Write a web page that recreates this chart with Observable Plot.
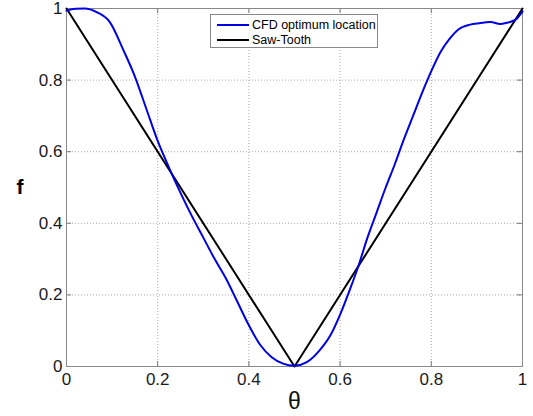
<!DOCTYPE html>
<html>
<head>
<meta charset="utf-8">
<script src="https://cdn.jsdelivr.net/npm/d3@7"></script>
<script src="https://cdn.jsdelivr.net/npm/@observablehq/plot@0.6"></script>
<style>
  html, body { margin: 0; padding: 0; background: #fff; }
  #wrap { position: relative; width: 533px; height: 416px; font-family: "Liberation Sans", Arial, sans-serif; }
  #legend { position: absolute; left: 210px; top: 14px; width: 166px; height: 32px; border: 1px solid #888; background: #fff; font-size: 12.5px; color: #000; }
  #legend .row { position: absolute; left: 6px; height: 14px; display: flex; align-items: center; }
  #legend .sw { width: 32px; height: 2px; margin-right: 3px; }
</style>
</head>
<body>
<div id="wrap"></div>
<script>
// CFD optimum location curve
const cfdTheta = [0, 0.02, 0.04, 0.066, 0.095, 0.125, 0.15, 0.175, 0.20, 0.225, 0.25, 0.275, 0.30, 0.325, 0.35, 0.375, 0.40, 0.425, 0.45, 0.475, 0.50, 0.527, 0.555, 0.58, 0.60, 0.62, 0.64, 0.66, 0.68, 0.70, 0.72, 0.74, 0.76, 0.78, 0.80, 0.82, 0.84, 0.86, 0.885, 0.905, 0.93, 0.951, 0.965, 0.984, 1.0];
const cfdF     = [0.994, 0.999, 1.0, 0.99, 0.962, 0.883, 0.81, 0.72, 0.63, 0.555, 0.485, 0.42, 0.36, 0.30, 0.245, 0.18, 0.115, 0.06, 0.026, 0.008, 0.002, 0.012, 0.045, 0.09, 0.145, 0.21, 0.28, 0.36, 0.43, 0.50, 0.565, 0.635, 0.70, 0.765, 0.825, 0.878, 0.915, 0.942, 0.955, 0.959, 0.962, 0.957, 0.960, 0.968, 0.992];
// Saw-tooth
const sawTheta = [0, 0.5, 1];
const sawF     = [1, 0, 1];
// ticks
const xTicks = [0, 0.2, 0.4, 0.6, 0.8, 1];
const yTicks = [0, 0.2, 0.4, 0.6, 0.8, 1];
const seriesNames = ["CFD optimum location", "Saw-Tooth"];
const seriesColors = ["#0000e0", "#000000"];

const cfd = cfdTheta.map((t, i) => ({t, f: cfdF[i]}));
const saw = sawTheta.map((t, i) => ({t, f: sawF[i]}));
const innerX = xTicks.slice(1, -1);
const innerY = yTicks.slice(1, -1);

const chart = Plot.plot({
  width: 533,
  height: 416,
  marginLeft: 66,
  marginRight: 11,
  marginTop: 8,
  marginBottom: 50,
  style: {fontFamily: "'Liberation Sans', Arial, sans-serif", fontSize: "17px", color: "#1a1a1a", background: "#fff"},
  x: {domain: [0, 1], ticks: xTicks, tickFormat: d => String(d)},
  y: {domain: [0, 1], ticks: yTicks, tickFormat: d => String(d)},
  marks: [
    Plot.ruleX(innerX, {stroke: "#aaa", strokeDasharray: "1,2", strokeWidth: 1}),
    Plot.ruleY(innerY, {stroke: "#aaa", strokeDasharray: "1,2", strokeWidth: 1}),
    Plot.ruleX(innerX, {y1: 0, y2: 0.014, stroke: "#777"}),
    Plot.ruleX(innerX, {y1: 1, y2: 0.986, stroke: "#777"}),
    Plot.ruleY(innerY, {x1: 0, x2: 0.011, stroke: "#777"}),
    Plot.ruleY(innerY, {x1: 1, x2: 0.989, stroke: "#777"}),
    Plot.frame({stroke: "#888"}),
    Plot.axisX({ticks: xTicks, tickSize: 0, tickPadding: 6, tickFormat: d => String(d), label: null, fontSize: 17}),
    Plot.axisY({ticks: yTicks, tickSize: 0, tickPadding: 4, tickFormat: d => String(d), label: null, fontSize: 17}),
    Plot.line(saw, {x: "t", y: "f", stroke: seriesColors[1], strokeWidth: 2}),
    Plot.line(cfd, {x: "t", y: "f", stroke: seriesColors[0], strokeWidth: 2, curve: "monotone-x"}),
    Plot.text(["θ"], {x: 0.5, frameAnchor: "bottom", dy: 42, fontSize: 23, fill: "#111", text: d => d}),
    Plot.text(["f"], {y: 0.5, frameAnchor: "left", dx: -50, dy: 0, fontSize: 21, fontWeight: "bold", fill: "#000", text: d => d})
  ]
});

const wrap = document.getElementById("wrap");
wrap.appendChild(chart);

const legend = document.createElement("div");
legend.id = "legend";
seriesNames.forEach((name, i) => {
  const row = document.createElement("div");
  row.className = "row";
  row.style.top = (3 + i * 15) + "px";
  const sw = document.createElement("span");
  sw.className = "sw";
  sw.style.background = seriesColors[i];
  const lab = document.createElement("span");
  lab.textContent = name;
  row.appendChild(sw);
  row.appendChild(lab);
  legend.appendChild(row);
});
wrap.appendChild(legend);
</script>
</body>
</html>
